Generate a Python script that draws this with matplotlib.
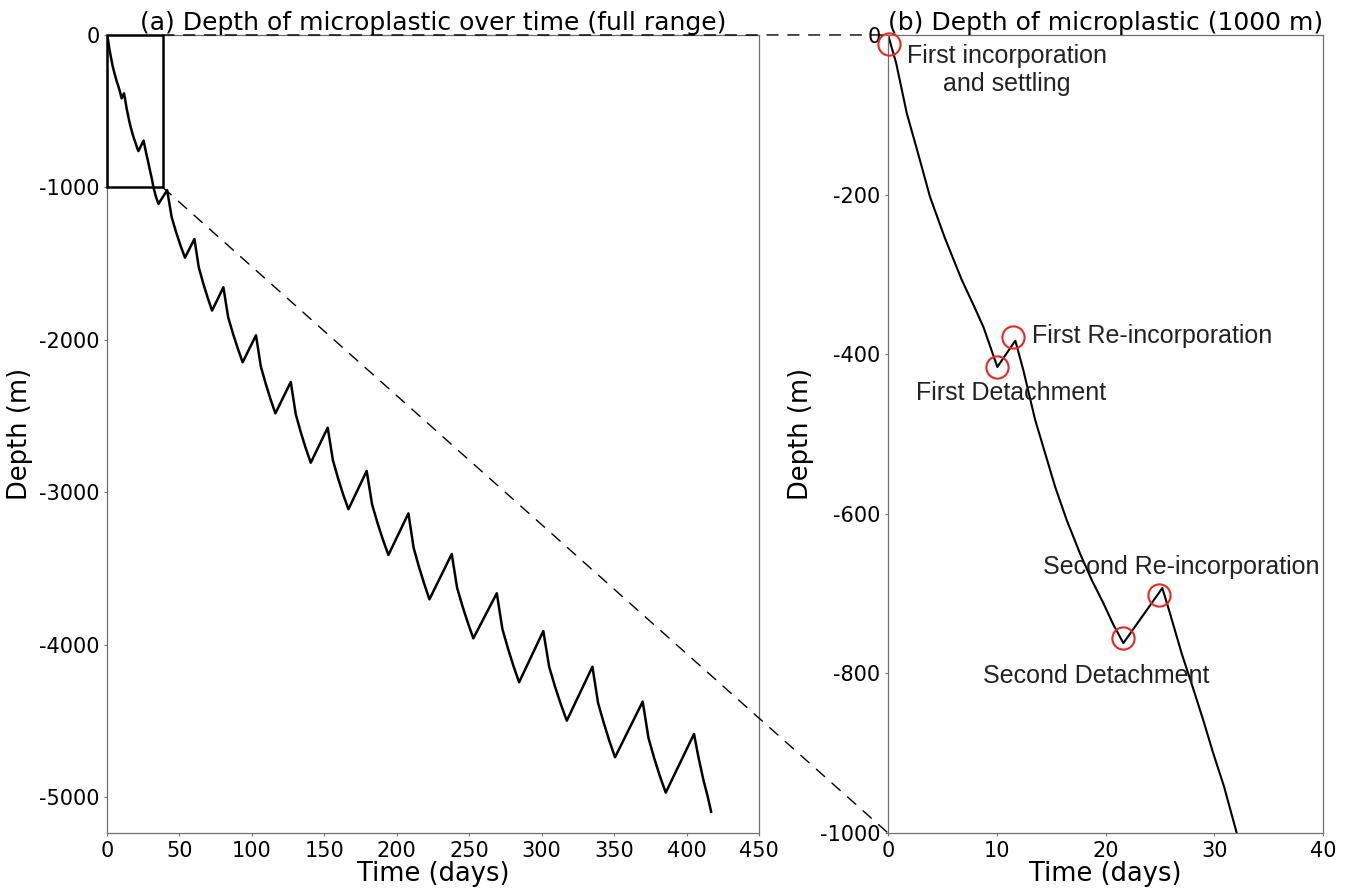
import matplotlib
matplotlib.use('Agg')
import matplotlib.pyplot as plt
from matplotlib.patches import Rectangle, ConnectionPatch

plt.rcParams['font.family'] = 'DejaVu Sans'
plt.rcParams['axes.unicode_minus'] = False

# depth track (days, metres)
days = [0.0, 0.74, 1.72, 2.79, 3.86, 5.24, 6.78, 7.91, 8.77, 10.05,
        11.7, 12.44, 13.52, 14.44, 15.36, 16.43, 17.66, 18.73, 19.8, 20.72, 21.64,
        25.22, 25.93, 27.0, 28.01, 28.97, 29.9, 30.9, 32.06, 33.8, 35.5,
        41.5, 44.6, 47.65, 50.7, 53.8,
        60.3, 63.35, 66.4, 69.45, 72.5,
        80.3, 83.6, 86.95, 90.3, 93.6,
        102.8, 106.15, 109.5, 112.85, 116.2,
        126.8, 130.25, 133.7, 137.15, 140.6,
        152.3, 155.9, 159.45, 163.0, 166.6,
        179.2, 182.95, 186.7, 190.45, 194.2,
        208.0, 211.6, 215.25, 218.9, 222.5,
        237.9, 241.6, 245.35, 249.1, 252.8,
        269.0, 272.85, 276.7, 280.55, 284.4,
        301.1, 305.15, 309.2, 313.25, 317.3,
        335.0, 338.9, 342.8, 346.7, 350.6,
        369.7, 373.7, 377.6, 381.6, 385.6,
        405.1, 408.1, 411.6, 414.6, 416.9]
depth = [0, -35, -98, -150, -203, -255, -307, -340, -366, -416,
         -383, -420, -482, -524, -566, -608, -650, -683, -712, -739, -762,
         -693, -725, -775, -817, -858, -900, -942, -1000, -1062, -1108,
         -1018, -1195, -1293, -1381, -1461,
         -1338, -1526, -1629, -1723, -1808,
         -1655, -1852, -1960, -2058, -2147,
         -1970, -2175, -2287, -2390, -2482,
         -2276, -2488, -2605, -2711, -2806,
         -2576, -2790, -2908, -3015, -3111,
         -2860, -3080, -3202, -3312, -3411,
         -3138, -3364, -3488, -3600, -3702,
         -3405, -3626, -3748, -3858, -3958,
         -3662, -3896, -4024, -4141, -4246,
         -3910, -4145, -4275, -4392, -4498,
         -4144, -4382, -4512, -4631, -4738,
         -4373, -4612, -4743, -4863, -4970,
         -4585, -4734, -4887, -4997, -5095]

# marked events in panel (b)
event_days = [0.12, 10.0, 11.52, 21.58, 24.95]
event_depth = [-11, -416, -379, -755, -702]
event_labels = ['First incorporation\nand settling', 'First Detachment',
                'First Re-incorporation', 'Second Detachment',
                'Second Re-incorporation']
label_xy = [(10.9, -44), (11.3, -449), (13.25, -377), (19.1, -803), (27.0, -667)]
label_ha = ['center', 'center', 'left', 'center', 'center']

fig = plt.figure(figsize=(13.48, 8.92), dpi=100)
ax1 = fig.add_axes([0.0794, 0.0661, 0.4837, 0.8947])
ax2 = fig.add_axes([0.6588, 0.0661, 0.3227, 0.8947])

spine_col = '#707070'
for ax in (ax1, ax2):
    for sp in ax.spines.values():
        sp.set_color(spine_col)
        sp.set_linewidth(0.9)
    ax.tick_params(colors=spine_col, labelcolor='black', labelsize=15,
                   length=2.5, pad=3)

ax1.plot(days, depth, color='black', lw=1.8)
ax1.set_xlim(0, 450)
ax1.set_ylim(-5235, 0)
ax1.set_xticks(range(0, 451, 50))
ax1.set_yticks([0, -1000, -2000, -3000, -4000, -5000])
ax1.set_xlabel('Time (days)', fontsize=18.5, labelpad=0)
ax1.set_ylabel('Depth (m)', fontsize=18.5, labelpad=4)
ax1.set_title('(a) Depth of microplastic over time (full range)', fontsize=18, pad=3)
ax1.add_patch(Rectangle((0, -1000), 38.5, 1000, fill=False, ec='black', lw=1.8,
                        zorder=3, clip_on=False))

ax2.plot(days, depth, color='black', lw=1.5)
ax2.set_xlim(0, 40)
ax2.set_ylim(-1000, 0)
ax2.set_xticks([0, 10, 20, 30, 40])
ax2.set_yticks([0, -200, -400, -600, -800, -1000])
ax2.set_xlabel('Time (days)', fontsize=18.5, labelpad=0)
ax2.set_ylabel('Depth (m)', fontsize=18.5, labelpad=4)
ax2.set_title('(b) Depth of microplastic (1000 m)', fontsize=18, pad=3)
ax2.plot(event_days, event_depth, 'o', ms=16, mfc='none', mec='#e82820',
         mew=1.5, clip_on=False, zorder=4)
for lab, (tx, ty), ha in zip(event_labels, label_xy, label_ha):
    ax2.text(tx, ty, lab, ha=ha, va='center', fontsize=18,
             family='Liberation Sans', color='#222222', linespacing=1.2)

# zoom connectors between the two panels
for xa, ya, yb in [(38.5, 0, 0), (38.5, -1000, -1000)]:
    con = ConnectionPatch(xyA=(xa, ya), coordsA=ax1.transData,
                          xyB=(0, yb), coordsB=ax2.transData,
                          color='black', lw=1.0, linestyle=(0, (8, 7)))
    fig.add_artist(con)

fig.savefig('out.png', dpi=100)
